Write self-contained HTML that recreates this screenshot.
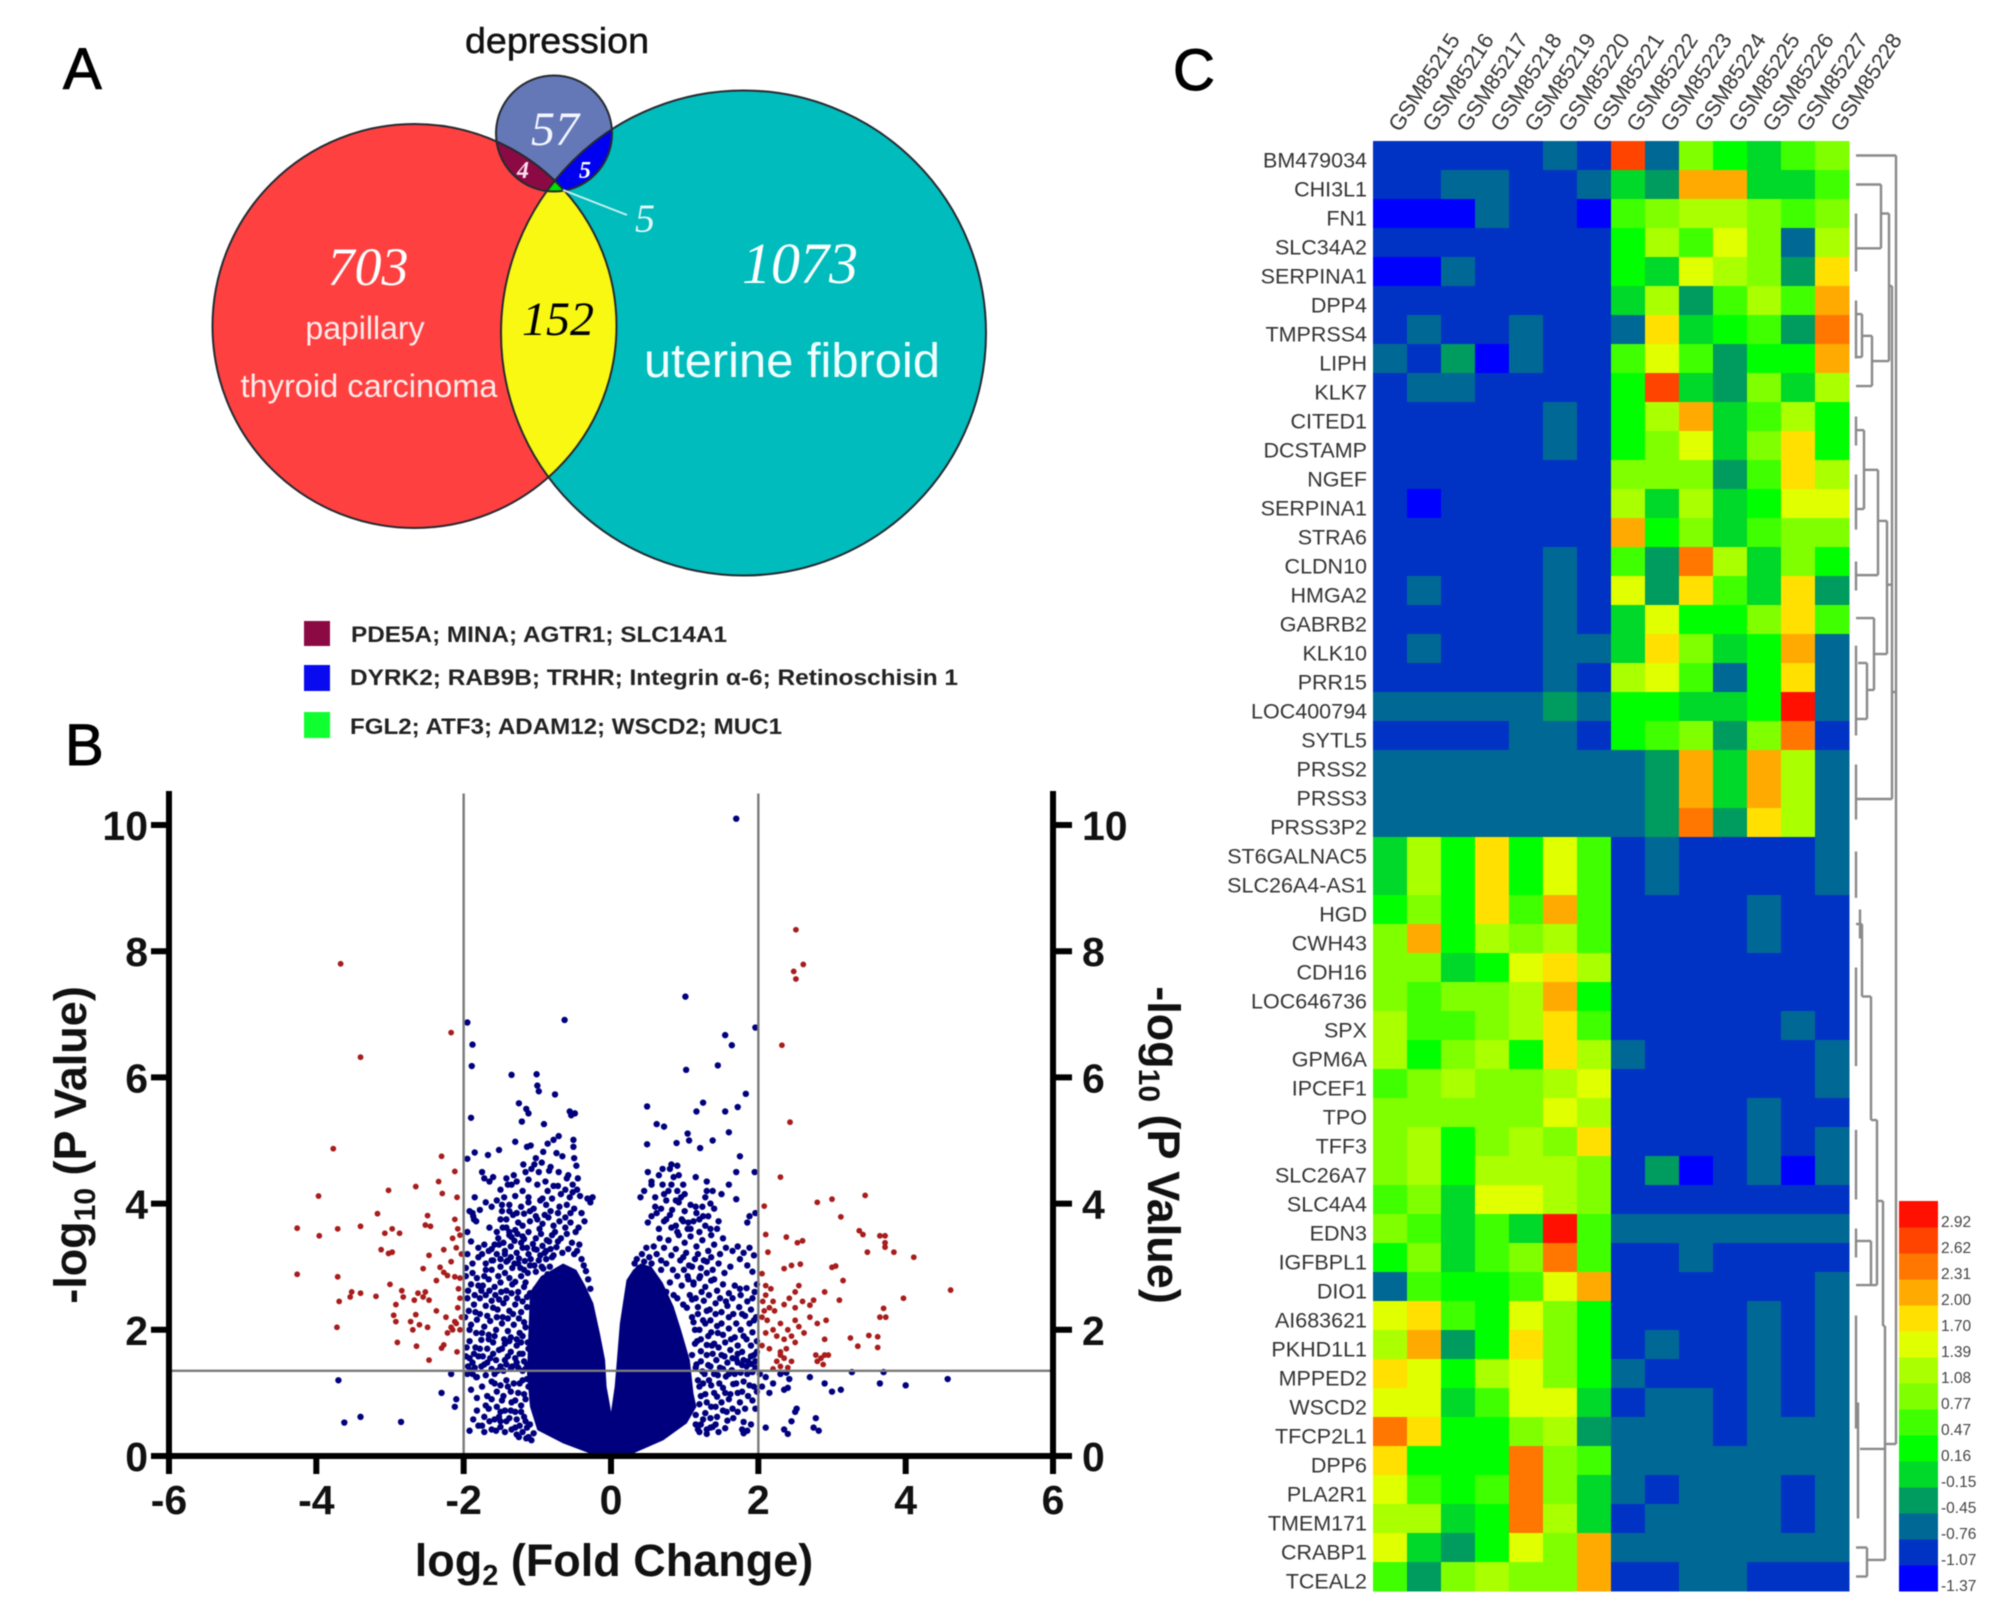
<!DOCTYPE html>
<html lang="en">
<head>
<meta charset="utf-8">
<title>Venn diagram, volcano plot and heatmap</title>
<style>
html,body{margin:0;padding:0;background:#fff;}
#figure{display:block;width:2008px;height:1616px;filter:blur(0.6px);}
text{font-family:"Liberation Sans",sans-serif;}
.corsiva{font-family:"Liberation Serif",serif;font-style:italic;}
.tick{font-weight:bold;font-size:41px;fill:#111;}
.row-label{font-size:21.5px;fill:#333;}
.col-label{font-size:22px;fill:#333;}
.bar-label{font-size:15.5px;fill:#444;}
</style>
</head>
<body>
<svg id="figure" xmlns="http://www.w3.org/2000/svg" width="2008" height="1616" viewBox="0 0 2008 1616">
<rect x="0" y="0" width="2008" height="1616" fill="#fff"/>
<defs>
<clipPath id="clip-red"><circle cx="414.5" cy="326" r="202"/></clipPath>
<clipPath id="clip-teal"><circle cx="743.5" cy="333" r="242.5"/></clipPath>
</defs>

<text x="63" y="89" font-size="58" stroke="#000" stroke-width="1">A</text>
<text x="65" y="765" font-size="58" stroke="#000" stroke-width="1">B</text>
<text x="1173" y="90" font-size="58" stroke="#000" stroke-width="1">C</text>

<g>
<circle cx="414.5" cy="326" r="202" fill="#ff4040"/>
<circle cx="743.5" cy="333" r="242.5" fill="#00bcbc"/>
<g clip-path="url(#clip-red)"><circle cx="743.5" cy="333" r="242.5" fill="#f8f812"/></g>
<circle cx="554" cy="133.5" r="58" fill="#6478b8"/>
<g clip-path="url(#clip-red)"><circle cx="554" cy="133.5" r="58" fill="#8b0a44"/></g>
<g clip-path="url(#clip-teal)"><circle cx="554" cy="133.5" r="58" fill="#0000f0"/></g>
<g clip-path="url(#clip-red)"><g clip-path="url(#clip-teal)"><circle cx="554" cy="133.5" r="58" fill="#00e000"/></g></g>
<g fill="none" stroke="#262a30" stroke-width="2">
<circle cx="414.5" cy="326" r="202"/>
<circle cx="743.5" cy="333" r="242.5"/>
<circle cx="554" cy="133.5" r="58"/>
</g>
<line x1="563" y1="190" x2="627" y2="215" stroke="#cdeeee" stroke-width="2"/>
<text x="557" y="53" font-size="36" text-anchor="middle" textLength="184" lengthAdjust="spacingAndGlyphs" fill="#111" stroke="#111" stroke-width="0.5">depression</text>
<text class="corsiva" x="555" y="145" font-size="48" text-anchor="middle" fill="#f4f6ff">57</text>
<text class="corsiva" x="523" y="178" font-size="24" font-weight="bold" text-anchor="middle" fill="#ffe0f0">4</text>
<text class="corsiva" x="585" y="178" font-size="24" font-weight="bold" text-anchor="middle" fill="#fff">5</text>
<text class="corsiva" x="645" y="232" font-size="40" text-anchor="middle" fill="#e0f8f8">5</text>
<text class="corsiva" x="368" y="285" font-size="54" text-anchor="middle" fill="#fff">703</text>
<text x="365" y="339" font-size="32" text-anchor="middle" fill="#ffecec">papillary</text>
<text x="369" y="397" font-size="32" text-anchor="middle" textLength="257" lengthAdjust="spacingAndGlyphs" fill="#ffecec">thyroid carcinoma</text>
<text class="corsiva" x="800" y="283" font-size="58" text-anchor="middle" fill="#fff">1073</text>
<text x="792" y="377" font-size="48" text-anchor="middle" textLength="296" lengthAdjust="spacingAndGlyphs" fill="#f2ffff">uterine fibroid</text>
<text class="corsiva" x="558" y="335" font-size="48" text-anchor="middle" fill="#000">152</text>
</g>

<g>
<rect x="304" y="621" width="26" height="25" fill="#8b0a44"/>
<rect x="304" y="665" width="26" height="26" fill="#0a0af0"/>
<rect x="304" y="712" width="26" height="26" fill="#10ff30"/>
<text x="351" y="642" font-size="22" font-weight="bold" fill="#222" textLength="376" lengthAdjust="spacingAndGlyphs">PDE5A; MINA; AGTR1; SLC14A1</text>
<text x="350" y="685" font-size="22" font-weight="bold" fill="#222" textLength="608" lengthAdjust="spacingAndGlyphs">DYRK2; RAB9B; TRHR; Integrin α-6; Retinoschisin 1</text>
<text x="350" y="734" font-size="22" font-weight="bold" fill="#222" textLength="432" lengthAdjust="spacingAndGlyphs">FGL2; ATF3; ADAM12; WSCD2; MUC1</text>
</g>

<g id="volcano"></g>
<text x="614" y="1576" font-size="45" font-weight="bold" text-anchor="middle" fill="#111">log<tspan font-size="29" dy="9">2</tspan><tspan dy="-9"> (Fold Change)</tspan></text>
<text transform="translate(86,1145) rotate(-90)" font-size="45" font-weight="bold" text-anchor="middle" fill="#111">-log<tspan font-size="30" dy="9">10</tspan><tspan dy="-9"> (P Value)</tspan></text>
<text transform="translate(1148,1145) rotate(90)" font-size="45" font-weight="bold" text-anchor="middle" fill="#111">-log<tspan font-size="30" dy="9">10</tspan><tspan dy="-9"> (P Value)</tspan></text>

<g id="heatmap"></g>
<g id="dendrogram" stroke="#8a8a8a" stroke-width="2.4" fill="none"></g>
<g id="colorbar"></g>
</svg>

<script>
// ---------- Volcano data ----------
const volcanoXTicks = [-6, -4, -2, 0, 2, 4, 6];
const volcanoYTicks = [0, 2, 4, 6, 8, 10];
const foldChangeCutoffs = [-2, 2];
const pValueCutoff = 1.35;

const denseCoreLeft = [[0,0],[-.24,.02],[-.65,.2],[-1,.41],[-1.1,.78],[-1.14,1.31],[-1.12,2],[-1.1,2.6],[-.95,2.85],[-.65,3.05],[-.47,2.95],[-.35,2.7],[-.24,2.42],[-.15,1.94],[-.08,1.52],[-.06,1.1],[-.01,.78],[0,.7]];
const denseCoreRight = [[0,0],[.3,.04],[.71,.25],[1.03,.52],[1.16,.78],[1.12,.99],[1.07,1.52],[.95,2],[.85,2.37],[.7,2.75],[.55,3],[.4,3.05],[.3,2.95],[.21,2.79],[.12,2.1],[.08,1.52],[.05,1.1],[.01,.78],[0,.7]];

const bluePoints = [
[1.70,10.1],[1.01,7.28],[-.63,6.91],[1.96,6.79],[-1.95,6.87],[1.55,6.67],[1.64,6.51],[-1.88,6.52],[-1.89,6.18],[-1.35,6.04],[-1.01,6.05],[1.02,6.12],[1.45,6.19],[-1,5.87],[-.98,5.78],[-.76,5.73],[1.83,5.74],[-1.25,5.59],[-1.15,5.5],[-1.12,5.43],[-.54,5.4],[-.49,5.43],[-.56,5.46],[-1.9,5.36],[.49,5.54],[1.25,5.6],[1.16,5.46],[1.55,5.46],[1.72,5.53],[-1.21,5.3],[-.91,5.26],[.62,5.26],[.72,5.22],[1.6,5.13],[1.04,5.11],[1.06,5],[1.38,5],[.49,4.94],[.89,4.96],[1.21,4.88],[1.75,4.75],[-.71,5.07],[-.78,5.01],[-.51,5.01],[-.51,4.9],[-1.3,4.98],[-1.09,4.92],[-1.52,4.85],[-1.85,4.81],[-1.95,4.71],[-1.67,4.77],
[-1.14,4.9],[-.86,4.95],[-.92,4.82],[-.74,4.8],[-.66,4.75],[-.5,4.72],[-.47,4.6],[-1.02,4.72],[-1.19,4.62],[-1.08,4.55],[-.94,4.65],[-.82,4.58],[-.71,4.5],[-.58,4.45],[-.45,4.4],[-1.32,4.45],[-1.6,4.42],[-1.72,4.4],[-1.65,4.35],[-1.75,4.5],[-1.4,4.3],[-1.28,4.35],[-1.12,4.38],[-1,4.3],[-.89,4.35],[-.78,4.28],[-.62,4.22],[-.52,4.18],[-.42,4.12],[-.32,4.08],[-.28,4.02],[-.25,4.1],[-1.5,4.22],[-1.85,4.1],[-1.92,3.88],[-1.87,3.8],[-1.7,4.02],[-1.62,3.95],[-1.45,4.1],[-1.38,3.98],[-1.3,4.12],[-1.22,3.95],[-1.12,4.02],[-1.05,3.92],[-.96,4.05],[-.88,3.98],[-.8,4.08],[-.7,3.95],[-.6,3.98],[-.5,3.92],[-.4,3.85],[-.36,3.72],[-.44,3.62],
[-1.48,3.88],[-1.42,3.75],[-1.33,3.82],[-1.26,3.7],[-1.18,3.84],[-1.1,3.72],[-1.02,3.8],[-.93,3.68],[-.85,3.78],[-.78,3.65],[-.7,3.72],[-.62,3.62],[-.55,3.7],[-.48,3.55],[-1.65,3.62],[-1.55,3.55],[-1.47,3.62],[-1.38,3.5],[-1.3,3.58],[-1.2,3.48],[-1.12,3.55],[-1.02,3.45],[-.95,3.52],[-.87,3.42],[-.8,3.5],[-.72,3.4],[-1.72,3.35],[-1.62,3.28],[-1.52,3.35],[-1.44,3.25],[-1.36,3.32],[-1.28,3.22],[-1.2,3.3],[-1.12,3.2],[-1.04,3.28],[-.96,3.18],[-.88,3.25],[-.8,3.15],[-1.95,3.2],[-1.88,3.05],[-1.8,3.15],[-1.7,3.05],[-1.6,3.1],[-1.5,3],[-1.42,3.08],[-1.34,2.98],[-1.26,3.05],[-1.18,2.95],[-1.1,3.02],[-1.02,2.92],[-.94,3],[-.86,2.88],
[-1.97,2.85],[-1.9,2.72],[-1.82,2.82],[-1.74,2.7],[-1.66,2.8],[-1.58,2.68],[-1.5,2.75],[-1.42,2.62],[-1.34,2.72],[-1.26,2.6],[-1.18,2.68],[-1.1,2.58],[-1.02,2.65],[-.94,2.52],[-1.95,2.5],[-1.86,2.4],[-1.78,2.5],[-1.7,2.38],[-1.62,2.46],[-1.54,2.32],[-1.46,2.42],[-1.38,2.3],[-1.3,2.4],[-1.22,2.28],[-1.14,2.36],[-1.06,2.25],[-.98,2.3],[-1.98,2.2],[-1.9,2.08],[-1.82,2.16],[-1.72,2.05],[-1.64,2.14],[-1.56,2],[-1.48,2.1],[-1.4,1.98],[-1.32,2.08],[-1.24,1.95],[-1.16,2.04],[-1.08,1.92],[-1.92,1.82],[-1.84,1.72],[-1.76,1.84],[-1.68,1.7],[-1.6,1.8],[-1.52,1.68],[-1.44,1.78],[-1.36,1.65],[-1.28,1.75],[-1.2,1.62],[-1.12,1.7],[-1.97,1.58],[-1.88,1.48],[-1.8,1.58],[-1.72,1.45],[-1.64,1.55],[-1.5,1.42],[-1.44,1.52],[-1.36,1.38],[-1.28,1.48],[-1.2,1.35],[-1.14,1.45],
[-1.9,1.05],[-1.82,.92],[-1.75,1.1],[-1.68,.95],[-1.62,1.18],[-1.55,1.02],[-1.48,.88],[-1.42,1.2],[-1.36,1.02],[-1.3,.88],[-1.24,1.15],[-1.18,.98],[-1.14,1.22],[-1.82,.72],[-1.72,.62],[-1.66,.75],[-1.58,.58],[-1.5,.7],[-1.42,.55],[-1.36,.72],[-1.28,.58],[-1.22,.7],[-1.16,.55],[-1.92,.4],[-1.8,.48],[-1.72,.38],[-1.62,.42],[-1.5,.46],[-1.44,.38],[-1.35,.42],[-1.28,.34],[-1.2,.38],[-1.12,.3],[-1.87,.58],[-1.82,1.25],[-1.7,1.28],[-1.58,1.3],
[-3.7,1.2],[-3.62,.53],[-3.4,.62],[-2.85,.54],[-2.3,1],[-2.17,1.3],[-2.1,.9],[-2.12,.78],[-1.95,1.3],
[.5,4.5],[.55,4.3],[.65,4.45],[.7,4.3],[.8,4.55],[.82,4.62],[.9,4.6],[.85,4.42],[.92,4.45],[.78,4.2],[.9,4.2],[.98,4.3],[1.15,4.42],[1.3,4.35],[1.28,4.1],[1.38,4.2],[1.5,4.15],[1.6,4.3],[1.7,4.5],[1.7,4.07],[1.95,4.5],[1.88,3.8],[1.96,3.85],[1.85,3.7],
[.6,4.1],[.68,3.92],[.75,4.05],[.83,3.9],[.92,4.02],[1,3.88],[1.08,3.98],[1.16,3.85],[1.24,3.95],[1.32,3.8],[1.4,3.92],[1.46,3.72],[.62,3.85],[.72,3.72],[.8,3.82],[.88,3.65],[.96,3.75],[1.04,3.6],[1.12,3.72],[1.2,3.55],[1.28,3.65],[1.36,3.5],[1.44,3.6],[1.52,3.45],[.92,3.5],[1,3.38],[1.08,3.48],[1.16,3.32],[1.24,3.42],[1.32,3.25],[1.4,3.35],[1.48,3.2],[1.56,3.3],[1.65,3.25],[1.72,3.32],[1.8,3.22],[1.88,3.3],[1.94,3.18],[.98,3.15],[1.06,3.02],[1.14,3.12],[1.22,2.98],[1.3,3.08],[1.38,2.95],[1.46,3.05],[1.54,2.9],[1.62,3],[1.75,3.12],[1.85,3.02],[1.92,2.92],
[1.04,2.85],[1.12,2.72],[1.2,2.82],[1.28,2.68],[1.36,2.78],[1.44,2.62],[1.52,2.72],[1.6,2.58],[1.68,2.7],[1.76,2.55],[1.84,2.66],[1.92,2.5],[1.98,2.72],[1.1,2.48],[1.18,2.36],[1.26,2.46],[1.34,2.32],[1.42,2.42],[1.5,2.28],[1.58,2.38],[1.66,2.25],[1.74,2.36],[1.82,2.22],[1.9,2.32],[1.97,2.2],[1.12,2.12],[1.2,2],[1.28,2.1],[1.36,1.96],[1.44,2.06],[1.52,1.92],[1.6,2.02],[1.68,1.88],[1.76,2],[1.84,1.85],[1.92,1.96],[1.98,1.82],[1.14,1.78],[1.22,1.66],[1.3,1.76],[1.38,1.62],[1.46,1.72],[1.54,1.58],[1.62,1.68],[1.7,1.54],[1.78,1.65],[1.86,1.5],[1.94,1.6],[1.16,1.45],[1.24,1.34],[1.32,1.44],[1.4,1.3],[1.48,1.4],[1.56,1.26],[1.64,1.36],[1.72,1.48],[1.78,1.44],[1.84,1.42],[1.9,1.46],[1.96,1.4],
[1.2,1.1],[1.28,.98],[1.36,1.12],[1.44,.94],[1.52,1.08],[1.6,.9],[1.66,1.14],[1.72,1],[1.8,1.18],[1.86,.95],[1.94,1.1],[1.2,.82],[1.28,.68],[1.36,.78],[1.44,.62],[1.52,.72],[1.58,.56],[1.66,.6],[1.72,.7],[1.78,.42],[1.8,.54],[1.22,.5],[1.3,.42],[1.38,.46],[1.46,.38],[1.55,.44],[1.2,.38],[1.98,1.02],[1.96,.75],[1.85,.4],[1.8,.36],[1.9,.5],
[2.1,.45],[2.35,.42],[2.4,.35],[2.45,.55],[2.5,.7],[2.52,.75],[2.75,.45],[2.78,.6],[2.82,.4],[2.35,1.05],[2.4,1.08],[2.15,1],[2.7,1.25],[2.9,1.15],[3,1.02],[3.12,1.05],[3.27,1.33],[3.65,1.15],[3.7,1.33],[4,1.12],[4.57,1.22],[2.3,1.3],[2.42,1.22],[2.1,1.25],[2.05,1.1],[2.2,1.15],[2.38,1.32],[2.02,1.3],
[-1.42,3.62],[-1.38,3.55],[-1.35,3.47],[-1.31,3.41],[-1.27,3.52],[-1.22,3.38],[-1.18,3.44],[-1.14,3.3],[-1.06,3.36],[-1.01,3.27],[-.97,3.6],[-.93,3.33],[-.9,3.22],[-.84,3.4],[-.82,3.28],[-.76,3.55],[-.74,3.31],[-.68,3.45],[-.66,3.22],[-.6,3.52],[-.58,3.28],[-.53,3.38],[-.5,3.2],[-.46,3.25],[-.43,3.35],[-.4,3.12],[-.37,3.02],[-.34,2.93],[-.31,2.8],[-.28,2.65],[-1.44,3.2],[-1.4,3.1],[-1.36,3.15],[-1.31,3.05],[-1.25,3.13],[-1.23,2.98],[-1.17,3.09],[-1.13,2.9],[-1.09,3.12],[-1.04,3.02],[-.98,3.1],[-.92,2.97],[-.88,3.12],[-.83,3],[-.78,3.18],[-1.58,3.35],[-1.55,3.2],[-1.53,3.45],[-1.5,3.12],[-1.46,3.38],[-1.62,3.1],[-1.66,3.25],[-1.7,2.95],[-1.75,3.2],[-1.8,3.3],[-1.86,3.75],[-1.88,3.85],[-1.83,3.72],[-1.78,3.9],[-1.95,3.55],[-1.9,3.4],
[-1.97,2.98],[-1.94,2.62],[-1.93,2.3],[-1.92,2],[-1.88,2.9],[-1.85,2.55],[-1.84,2.28],[-1.83,1.95],[-1.8,2.7],[-1.78,2.25],[-1.76,2.62],[-1.75,1.95],[-1.72,2.85],[-1.7,2.55],[-1.68,2.22],[-1.66,1.92],[-1.65,2.62],[-1.62,2.95],[-1.6,2.35],[-1.58,1.9],[-1.57,2.55],[-1.55,2.2],[-1.53,2.85],[-1.52,2.48],[-1.49,2.6],[-1.47,2.2],[-1.45,1.85],[-1.44,2.9],[-1.42,2.5],[-1.4,2.18],[-1.38,2.82],[-1.36,1.88],[-1.35,2.58],[-1.33,2.25],[-1.3,2.76],[-1.28,1.85],[-1.27,2.5],[-1.25,2.18],[-1.22,2.85],[-1.2,1.9],[-1.2,2.45],[-1.18,2.12],[-1.16,2.75],[-1.14,2.52],[-1.13,1.8],
[-1.96,1.72],[-1.94,1.42],[-1.92,1.55],[-1.9,1.35],[-1.88,1.3],[-1.86,1.62],[-1.85,1.4],[-1.83,1.25],[-1.78,1.7],[-1.76,1.42],[-1.74,1.58],[-1.68,1.48],[-1.66,1.85],[-1.62,1.38],[-1.6,1.62],[-1.56,1.52],[-1.54,1.35],[-1.48,1.7],[-1.46,1.35],[-1.42,1.45],[-1.4,1.58],[-1.38,1.82],[-1.34,1.42],[-1.3,1.55],[-1.26,1.4],[-1.24,1.62],[-1.22,1.8],[-1.18,1.5],[-1.16,1.38],
[-1.7,.8],[-1.65,.55],[-1.62,.9],[-1.58,1.15],[-1.55,.78],[-1.52,.62],[-1.5,1.12],[-1.46,.95],[-1.44,.72],[-1.4,1.1],[-1.38,.6],[-1.35,.85],[-1.32,1.15],[-1.3,.7],[-1.26,1],[-1.24,.48],[-1.22,.8],[-1.2,1.2],[-1.18,.62],[-1.16,.9],[-1.14,.45],[-1.12,1.1],[-1.1,.5],[-1.05,.36],[-1.3,.45],[-1.25,.3],[-1.15,.28],[-1.08,.25],[-1.5,.55],[-1.56,.4],[-1.75,.48],
[-1.55,4.05],[-1.48,3.98],[-1.42,4.4],[-1.35,4.3],[-1.2,4.2],[-1.16,4.5],[-1.12,4.1],[-1.04,4.62],[-.98,4.5],[-.93,4.08],[-.86,4.2],[-.84,4.52],[-.72,4.28],[-.68,4.15],[-.6,4.4],[-.56,4.1],[-.52,4.3],[-.46,4.22],[-.55,3.85],[-.62,3.78],[-.72,3.85],[-.82,3.88],[-.9,3.82],[-1,3.75],[-1.1,3.88],[-1.2,3.65],[-1.28,3.85],[-1.38,3.88],[-1.5,3.75],
[.32,3.05],[.35,3.12],[.38,2.98],[.42,3.2],[.45,3.08],[.48,3.3],[.52,3.15],[.55,3.05],[.58,3.32],[.62,3.2],[.66,3.45],[.68,3.1],[.72,3.3],[.75,3.05],[.78,3.42],[.82,3.18],[.84,2.95],[.88,3.28],[.9,2.85],[.94,3.1],[.96,2.7],[.99,2.95],[1.02,3.22],[1.05,2.8],[1.07,2.55],[1.1,3],[1.12,2.75],[1.15,2.5],[1.18,3.2],[1.21,2.85],[1.23,2.6],[1.26,3.1],[1.3,2.9],[1.33,2.55],[1.36,3.15],[1.4,2.8],[.8,2.75],[.75,2.6],[.85,2.55],[.9,2.5],[.98,2.4],[1.03,2.35],[.68,2.95],
[1.1,2.2],[1.14,2],[1.18,2.25],[1.22,1.85],[1.25,2.15],[1.3,2.3],[1.32,1.9],[1.35,2.15],[1.4,1.78],[1.42,2.25],[1.45,1.95],[1.48,2.5],[1.5,2.1],[1.55,1.8],[1.56,2.45],[1.6,2.2],[1.63,1.85],[1.65,2.5],[1.7,2.1],[1.72,1.75],[1.75,2.65],[1.78,2.25],[1.8,1.9],[1.85,2.45],[1.88,2.1],[1.9,1.75],[1.95,2.6],[1.94,2.15],[1.98,1.65],[1.1,1.6],[1.15,1.4],[1.17,1.82],[1.22,1.5],[1.27,1.3],[1.3,1.6],[1.35,1.42],[1.37,1.75],[1.43,1.52],[1.45,1.28],[1.5,1.6],[1.52,1.38],[1.58,1.48],[1.6,1.3],[1.65,1.55],[1.68,1.3],[1.72,1.62],[1.76,1.32],[1.8,1.52],[1.85,1.3],[1.9,1.58],[1.92,1.33],[1.96,1.5],
[1.18,1.2],[1.22,.95],[1.25,1.15],[1.3,.85],[1.33,1.2],[1.35,.6],[1.4,1],[1.42,.78],[1.47,1.15],[1.5,.85],[1.55,1],[1.57,.7],[1.62,.98],[1.65,.75],[1.7,1.15],[1.75,.85],[1.78,1.02],[1.82,.75],[1.88,1.12],[1.92,.88],[1.15,.65],[1.18,.42],[1.25,.58],[1.3,.35],[1.35,.45],[1.42,.5],[1.15,.5],
[.4,4.1],[.45,4.2],[.55,4.35],[.6,3.95],[.7,4.55],[.72,4.15],[.82,4.3],[.88,4.05],[.95,4.1],[1,4.15],[1.05,3.7],[1.15,3.95],[1.25,3.8],[1.3,4.2],[1.35,4],[.5,3.7],[.55,3.8],[.65,3.6],[.75,3.75],[.82,3.62],[.9,3.55],[.98,3.72],[1.08,3.6],[1.2,3.75],[1.35,3.6]
];

const redPoints = [
[-3.67,7.8],[-3.4,6.32],[-2.17,6.71],[-3.77,4.87],[-2.3,4.75],[-2.12,4.51],[-3.97,4.12],[-3.02,4.21],[-2.65,4.27],[-2.34,4.35],[-2.29,4.16],[-2.09,4.1],[-3.17,3.84],[-2.49,3.81],[-4.26,3.61],[-3.71,3.6],[-3.4,3.64],[-2.52,3.66],[-2.45,3.64],[-3.96,3.49],[-3.07,3.53],[-2.97,3.6],[-2.87,3.53],[-2.12,3.75],[-2.08,3.6],[-2.15,3.45],[-2.05,3.5],[-2.1,3.3],[-2.03,3.2],[-3.12,3.27],[-3.02,3.21],[-2.97,3.23],[-2.27,3.27],[-2.47,3.18],[-2.17,3.08],[-2.55,2.97],[-2.32,2.99],[-2.27,2.91],[-2.37,2.78],[-2.22,2.86],[-2.12,2.84],[-2.05,2.82],[-4.26,2.88],[-3.71,2.84],[-3,2.72],[-3.52,2.6],[-3.4,2.58],[-3.19,2.53],[-3.54,2.52],[-3.69,2.45],[-2.84,2.62],[-2.82,2.52],[-2.92,2.4],[-2.62,2.58],[-2.52,2.6],[-2.67,2.47],[-2.47,2.47],[-2.55,2.52],[-2.37,2.3],[-2.24,2.2],[-2.07,2.65],[-2.05,2.5],[-2.08,2.35],[-2.03,2.2],[-2.1,2.1],[-2.05,2],[-2.95,2.23],[-2.92,2.13],[-2.65,2.24],[-2.72,2.13],[-2.6,2.08],[-2.69,2],[-2.49,2.04],[-3.72,2.04],[-2.17,2.04],[-2.12,2.13],[-2.22,1.95],[-2.15,2],[-2.9,1.8],[-2.64,1.74],[-2.27,1.76],[-2.3,1.71],[-2.47,1.52],[-2.09,1.65],
[2.51,8.34],[2.61,7.79],[2.48,7.68],[2.51,7.56],[2.32,6.51],[2.43,5.29],[2.3,4.42],[2.08,3.96],[2.8,4.02],[3,4.07],[3.45,4.13],[3.12,3.79],[3.37,3.57],[3.42,3.51],[3.65,3.49],[3.72,3.49],[3.72,3.38],[3.72,3.31],[3.48,3.23],[3.84,3.23],[4.11,3.15],[2.1,3.51],[2.38,3.47],[2.53,3.38],[2.6,3.41],[2.13,3.23],[3,2.99],[3.05,3.01],[2.35,2.97],[2.45,3.02],[2.57,3.04],[2.05,2.89],[3.15,2.78],[4.61,2.63],[3.97,2.5],[2.9,2.6],[3.1,2.47],[2.1,2.7],[2.17,2.65],[2.1,2.55],[2.2,2.45],[2.06,2.45],[2.15,2.35],[2.08,2.3],[2.22,2.3],[2.55,2.7],[2.5,2.6],[2.42,2.5],[2.6,2.45],[2.35,2.4],[2.5,2.35],[2.7,2.39],[2.75,2.47],[3.7,2.34],[3.65,2.2],[3.73,2.2],[2.05,2.2],[2.12,2.15],[2.2,2],[2.3,2.1],[2.4,2],[2.5,2.15],[2.55,2.05],[2.1,1.95],[2.25,1.9],[2.35,1.85],[2.45,1.9],[2.05,1.75],[2.15,1.7],[2.3,1.65],[2.5,1.8],[2.62,1.95],[2.7,2.2],[2.8,2.1],[2.92,2.15],[2.9,1.85],[3.25,1.87],[3.35,1.74],[3.5,1.91],[3.62,1.89],[3.62,1.72],[2.78,1.6],[2.85,1.55],[2.9,1.6],[2.95,1.6],[2.8,1.5],[2.88,1.45],[2.25,1.5],[2.3,1.42],[2.35,1.55],[2.4,1.4],[2.45,1.5],[2.2,1.38],[2.3,1.6],[2.38,1.7]
];

// ---------- Heatmap data ----------
const sampleNames = ["GSM85215","GSM85216","GSM85217","GSM85218","GSM85219","GSM85220","GSM85221","GSM85222","GSM85223","GSM85224","GSM85225","GSM85226","GSM85227","GSM85228"];
const geneNames = ["BM479034","CHI3L1","FN1","SLC34A2","SERPINA1","DPP4","TMPRSS4","LIPH","KLK7","CITED1","DCSTAMP","NGEF","SERPINA1","STRA6","CLDN10","HMGA2","GABRB2","KLK10","PRR15","LOC400794","SYTL5","PRSS2","PRSS3","PRSS3P2","ST6GALNAC5","SLC26A4-AS1","HGD","CWH43","CDH16","LOC646736","SPX","GPM6A","IPCEF1","TPO","TFF3","SLC26A7","SLC4A4","EDN3","IGFBPL1","DIO1","AI683621","PKHD1L1","MPPED2","WSCD2","TFCP2L1","DPP6","PLA2R1","TMEM171","CRABP1","TCEAL2"];
const colorbarTicks = [-1.37,-1.07,-.76,-.45,-.15,.16,.47,.77,1.08,1.39,1.7,2,2.31,2.62,2.92];
const heatValues = [
[-1.07,-1.07,-1.07,-1.07,-1.07,-.76,-1.07,2.62,-.76,.77,.16,-.15,.47,.77],
[-1.07,-1.07,-.76,-.76,-1.07,-1.07,-.76,-.15,-.45,2,2,-.15,-.15,.47],
[-1.37,-1.37,-1.37,-.76,-1.07,-1.07,-1.37,.47,.77,1.08,1.08,.77,.47,.77],
[-1.07,-1.07,-1.07,-1.07,-1.07,-1.07,-1.07,.16,1.08,.47,1.39,.77,-.76,1.08],
[-1.37,-1.37,-.76,-1.07,-1.07,-1.07,-1.07,.16,-.15,1.39,1.08,.77,-.45,1.7],
[-1.07,-1.07,-1.07,-1.07,-1.07,-1.07,-1.07,-.15,1.08,-.45,.47,1.08,.47,2],
[-1.07,-.76,-1.07,-1.07,-.76,-1.07,-1.07,-.76,1.7,-.15,.16,.47,-.45,2.31],
[-.76,-1.07,-.45,-1.37,-.76,-1.07,-1.07,.47,1.39,.47,-.45,.16,.16,2],
[-1.07,-.76,-.76,-1.07,-1.07,-1.07,-1.07,.16,2.62,-.15,-.45,.77,-.15,1.08],
[-1.07,-1.07,-1.07,-1.07,-1.07,-.76,-1.07,.16,1.08,2,-.15,.47,1.08,.16],
[-1.07,-1.07,-1.07,-1.07,-1.07,-.76,-1.07,.16,.77,1.39,-.15,.77,1.7,.16],
[-1.07,-1.07,-1.07,-1.07,-1.07,-1.07,-1.07,.77,.77,.77,-.45,.47,1.7,1.08],
[-1.07,-1.37,-1.07,-1.07,-1.07,-1.07,-1.07,1.08,-.15,1.08,-.15,.16,1.39,1.39],
[-1.07,-1.07,-1.07,-1.07,-1.07,-1.07,-1.07,2,.16,.77,-.15,.47,.77,.77],
[-1.07,-1.07,-1.07,-1.07,-1.07,-.76,-1.07,.47,-.45,2.31,1.08,-.15,.77,.16],
[-1.07,-.76,-1.07,-1.07,-1.07,-.76,-1.07,1.39,-.45,1.7,.47,-.15,1.7,-.45],
[-1.07,-1.07,-1.07,-1.07,-1.07,-.76,-1.07,-.15,1.39,.16,.16,.77,1.7,.47],
[-1.07,-.76,-1.07,-1.07,-1.07,-.76,-.76,-.15,1.7,.77,-.15,.16,2,-.76],
[-1.07,-1.07,-1.07,-1.07,-1.07,-.76,-1.07,1.08,1.39,.47,-.76,.16,1.7,-.76],
[-.76,-.76,-.76,-.76,-.76,-.45,-.76,.16,.16,-.15,-.15,.16,2.92,-.76],
[-1.07,-1.07,-1.07,-1.07,-.76,-.76,-1.07,.16,.47,.77,-.45,.77,2.31,-1.07],
[-.76,-.76,-.76,-.76,-.76,-.76,-.76,-.76,-.45,2,-.15,2,1.08,-.76],
[-.76,-.76,-.76,-.76,-.76,-.76,-.76,-.76,-.45,2,-.15,2,1.08,-.76],
[-.76,-.76,-.76,-.76,-.76,-.76,-.76,-.76,-.45,2.31,-.45,1.7,1.08,-.76],
[-.15,1.08,.16,1.7,.16,1.39,.47,-1.07,-.76,-1.07,-1.07,-1.07,-1.07,-.76],
[-.15,1.08,.16,1.7,.16,1.39,.47,-1.07,-.76,-1.07,-1.07,-1.07,-1.07,-.76],
[.16,.77,.16,1.7,.47,2,.47,-1.07,-1.07,-1.07,-1.07,-.76,-1.07,-1.07],
[.77,2,.16,1.08,.77,1.08,.47,-1.07,-1.07,-1.07,-1.07,-.76,-1.07,-1.07],
[.77,.77,-.15,.16,1.39,1.7,1.08,-1.07,-1.07,-1.07,-1.07,-1.07,-1.07,-1.07],
[.77,.47,.77,.77,1.08,2,.16,-1.07,-1.07,-1.07,-1.07,-1.07,-1.07,-1.07],
[1.08,.47,.47,.77,1.08,1.7,.47,-1.07,-1.07,-1.07,-1.07,-1.07,-.76,-1.07],
[1.08,.16,.77,1.08,.16,1.7,1.08,-.76,-1.07,-1.07,-1.07,-1.07,-1.07,-.76],
[.47,.77,1.08,.77,.77,1.08,1.39,-1.07,-1.07,-1.07,-1.07,-1.07,-1.07,-.76],
[.77,.77,.77,.77,.77,1.39,1.08,-1.07,-1.07,-1.07,-1.07,-.76,-1.07,-1.07],
[.77,1.08,.16,.77,1.08,.77,1.7,-1.07,-1.07,-1.07,-1.07,-.76,-1.07,-.76],
[.77,1.08,.16,1.08,1.08,1.08,.77,-1.07,-.45,-1.37,-1.07,-.76,-1.37,-.76],
[.47,.77,-.15,1.39,1.39,1.08,.77,-1.07,-1.07,-1.07,-1.07,-1.07,-1.07,-1.07],
[.77,.47,-.15,.47,-.15,2.92,.47,-.76,-.76,-.76,-.76,-.76,-.76,-.76],
[.16,.77,-.15,.47,.77,2.31,.47,-1.07,-1.07,-.76,-1.07,-1.07,-1.07,-1.07],
[-.76,.47,.16,.16,.47,1.39,2,-1.07,-1.07,-1.07,-1.07,-1.07,-1.07,-.76],
[1.39,1.7,.47,.16,1.39,.77,.16,-1.07,-1.07,-1.07,-1.07,-.76,-1.07,-.76],
[1.08,2,-.45,.16,1.7,.77,.16,-1.07,-.76,-1.07,-1.07,-.76,-1.07,-.76],
[1.7,1.39,.16,1.08,1.39,.77,.16,-.76,-1.07,-1.07,-1.07,-.76,-1.07,-.76],
[1.39,1.39,-.15,.47,1.39,1.39,-.15,-1.07,-.76,-.76,-1.07,-.76,-1.07,-.76],
[2.31,1.7,.16,.16,.77,1.08,-.45,-.76,-.76,-.76,-1.07,-.76,-.76,-.76],
[1.7,.16,.16,.16,2.31,.77,.47,-.76,-.76,-.76,-.76,-.76,-.76,-.76],
[1.39,.47,.16,.47,2.31,.77,-.15,-.76,-1.07,-.76,-.76,-.76,-1.07,-.76],
[1.08,1.08,-.15,.16,2.31,1.08,-.15,-1.07,-.76,-.76,-.76,-.76,-1.07,-.76],
[1.39,-.15,-.45,.16,1.39,.77,2,-.76,-.76,-.76,-.76,-.76,-.76,-.76],
[.47,-.45,.77,1.08,.77,.77,2,-1.07,-1.07,-.76,-.76,-1.07,-1.07,-1.07]
];

// Dendrogram branches, read as [row, heightStart, heightEnd] and [rowStart, rowEnd, height]
const dendroHorizontal = [
[0,0,40],[1,0,25],[3.2,0,25],[2,25,33],[5.47,0,6],[6.95,0,6],[6.22,6,16],[7.95,0,16],[7.09,16,33],[4.5,33,36],[9.47,0,8],[12.19,0,8],[10.84,8,22],[14.47,0,22],[12.6,22,31],[15.95,0,18],[18.43,12,18],[17.5,2,11],[19.43,0,11],[17.19,18,31],[14.8,31,36],[22.19,0,36],[18.5,36,40],
[26.5,0,6],[29,6,15],[33.26,15,21],[37.43,0,15],[38.95,0,21],[36.05,21,27],[40.36,27,29],[48.43,11,29],[48,0,11],[49,0,11],[44.6,4,29],[44.43,29,40]
];
const dendroVertical = [
[1,3.2,25],[2,7.09,33],[0,44.43,40],[5,7,0],[5.47,6.95,6],[6.22,7.95,16],[9,10,0],[11,12.9,0],[9.47,12.19,8],[10.84,14.47,22],[14,15,0],[12.6,17.19,31],[15.95,18.43,18],[17.5,19.43,11],[16.9,20,0],[18.5,22.19,36],[21,22.9,0],[4.5,18.5,36],[2,4,0],[24,25.6,0],[26,27,4],[28,31.4,0],[26.5,29,6],[29,33.26,15],[33.26,38.95,21],[33.6,36,0],[36.05,40.36,27],[37,38,0],[37.43,38.95,15],[40.36,48.43,29],[40,43.9,0],[43,47,2],[48,49,11]
];

// ---------- Scales ----------
const SVG_NS = "http://www.w3.org/2000/svg";
const volX = v => 611 + v * 73.67;
const volY = v => 1456 - v * 63.1;
const heatLeft = 1373, heatTop = 141, cellW = 34, cellH = 29;
const barLeft = 1899, barWidth = 39, barBottom = 1591, barStep = 26;
const palette = ["#0000ff","#0033c4","#006894","#009b5f","#00d82a","#00ff00","#40ff00","#80ff00","#aaff00","#e0ff00","#ffe000","#ffaa00","#ff7700","#ff4400","#ff1000"];
const rowY = r => heatTop + cellH * (r + 0.5);
const heightX = h => 1856 + h;
function colorFor(v) {
  let best = 0;
  colorbarTicks.forEach((t, i) => { if (Math.abs(t - v) < Math.abs(colorbarTicks[best] - v)) best = i; });
  return palette[best];
}
function make(tag, attrs, parent, text) {
  const el = document.createElementNS(SVG_NS, tag);
  for (const k in attrs) el.setAttribute(k, attrs[k]);
  if (text !== undefined) el.textContent = text;
  parent.appendChild(el);
  return el;
}

// ---------- Volcano ----------
const volcano = document.getElementById("volcano");
[denseCoreLeft, denseCoreRight].forEach(outline => {
  const el = make("polygon", {points: outline.map(p => volX(p[0]) + "," + volY(p[1])).join(" "), fill: "#00007f"}, volcano);
  
  
});
bluePoints.forEach(p => {
  const el = make("circle", {cx: volX(p[0]), cy: volY(p[1]), r: 3.2, fill: "#00007f"}, volcano);
  
  
});
redPoints.forEach(p => {
  const el = make("circle", {cx: volX(p[0]), cy: volY(p[1]), r: 2.9, fill: "#a81c1c"}, volcano);
  
  
});
foldChangeCutoffs.forEach(v => {
  const el = make("line", {x1: volX(v), x2: volX(v), y1: volY(10.5), y2: volY(0), stroke: "#7a7a7a", "stroke-width": 2.4}, volcano);
  
  
});
{
  const el = make("line", {x1: volX(-6), x2: volX(6), y1: volY(pValueCutoff), y2: volY(pValueCutoff), stroke: "#7a7a7a", "stroke-width": 2.4}, volcano);
  
  
}
const axisStyle = {stroke: "#000", "stroke-width": 6, "stroke-linecap": "butt"};
[[volX(-6), 791, volX(-6), 1474, 'volcano-left-axis'], [volX(6), 791, volX(6), 1474, 'volcano-right-axis'], [151, volY(0), 1072, volY(0), 'volcano-x-axis']].forEach(a => {
  const el = make("line", Object.assign({x1: a[0], y1: a[1], x2: a[2], y2: a[3]}, axisStyle), volcano);
  
  
});
volcanoYTicks.forEach(v => {
  const left = make("line", Object.assign({x1: 151, x2: volX(-6), y1: volY(v), y2: volY(v)}, axisStyle), volcano);
  
  
  const right = make("line", Object.assign({x1: volX(6), x2: 1072, y1: volY(v), y2: volY(v)}, axisStyle), volcano);
  
  
  const lt = make("text", {x: 148, y: volY(v) + 15, "text-anchor": "end", class: "tick"}, volcano, String(v));
  
  
  const rt = make("text", {x: 1082, y: volY(v) + 15, class: "tick"}, volcano, String(v));
  
  
});
volcanoXTicks.forEach(v => {
  const tk = make("line", Object.assign({x1: volX(v), x2: volX(v), y1: volY(0), y2: 1474}, axisStyle), volcano);
  
  
  const lb = make("text", {x: volX(v), y: 1514, "text-anchor": "middle", class: "tick"}, volcano, String(v));
  
  
});

// ---------- Heatmap ----------
const heatmap = document.getElementById("heatmap");
heatValues.forEach((row, r) => {
  row.forEach((v, c) => {
    const cell = make("rect", {x: heatLeft + c * cellW, y: heatTop + r * cellH, width: cellW + 0.5, height: cellH + 0.5, fill: colorFor(v)}, heatmap);
    
    
  });
});
geneNames.forEach((g, r) => {
  const lb = make("text", {x: 1367, y: rowY(r) + 12, "text-anchor": "end", class: "row-label"}, heatmap, g);
  
  
});
sampleNames.forEach((s, c) => {
  const lb = make("text", {transform: "translate(" + (1400 + c * cellW) + ",133) rotate(-57)", class: "col-label"}, heatmap, s);
  
  
});

// ---------- Dendrogram ----------
const dendro = document.getElementById("dendrogram");
dendroHorizontal.forEach(d => {
  const el = make("line", {x1: heightX(d[1]), x2: heightX(d[2]), y1: rowY(d[0]), y2: rowY(d[0])}, dendro);
  
  
});
dendroVertical.forEach(d => {
  const el = make("line", {x1: heightX(d[2]), x2: heightX(d[2]), y1: rowY(d[0]), y2: rowY(d[1])}, dendro);
  
  
});

// ---------- Color legend ----------
const colorbar = document.getElementById("colorbar");
colorbarTicks.forEach((t, i) => {
  const sw = make("rect", {x: barLeft, y: barBottom - (i + 1) * barStep, width: barWidth, height: barStep + 0.5, fill: colorFor(t)}, colorbar);
  
  
  const lb = make("text", {x: 1941, y: barBottom - i * barStep, class: "bar-label"}, colorbar, t.toFixed(2));
  
  
});
</script>
</body>
</html>
